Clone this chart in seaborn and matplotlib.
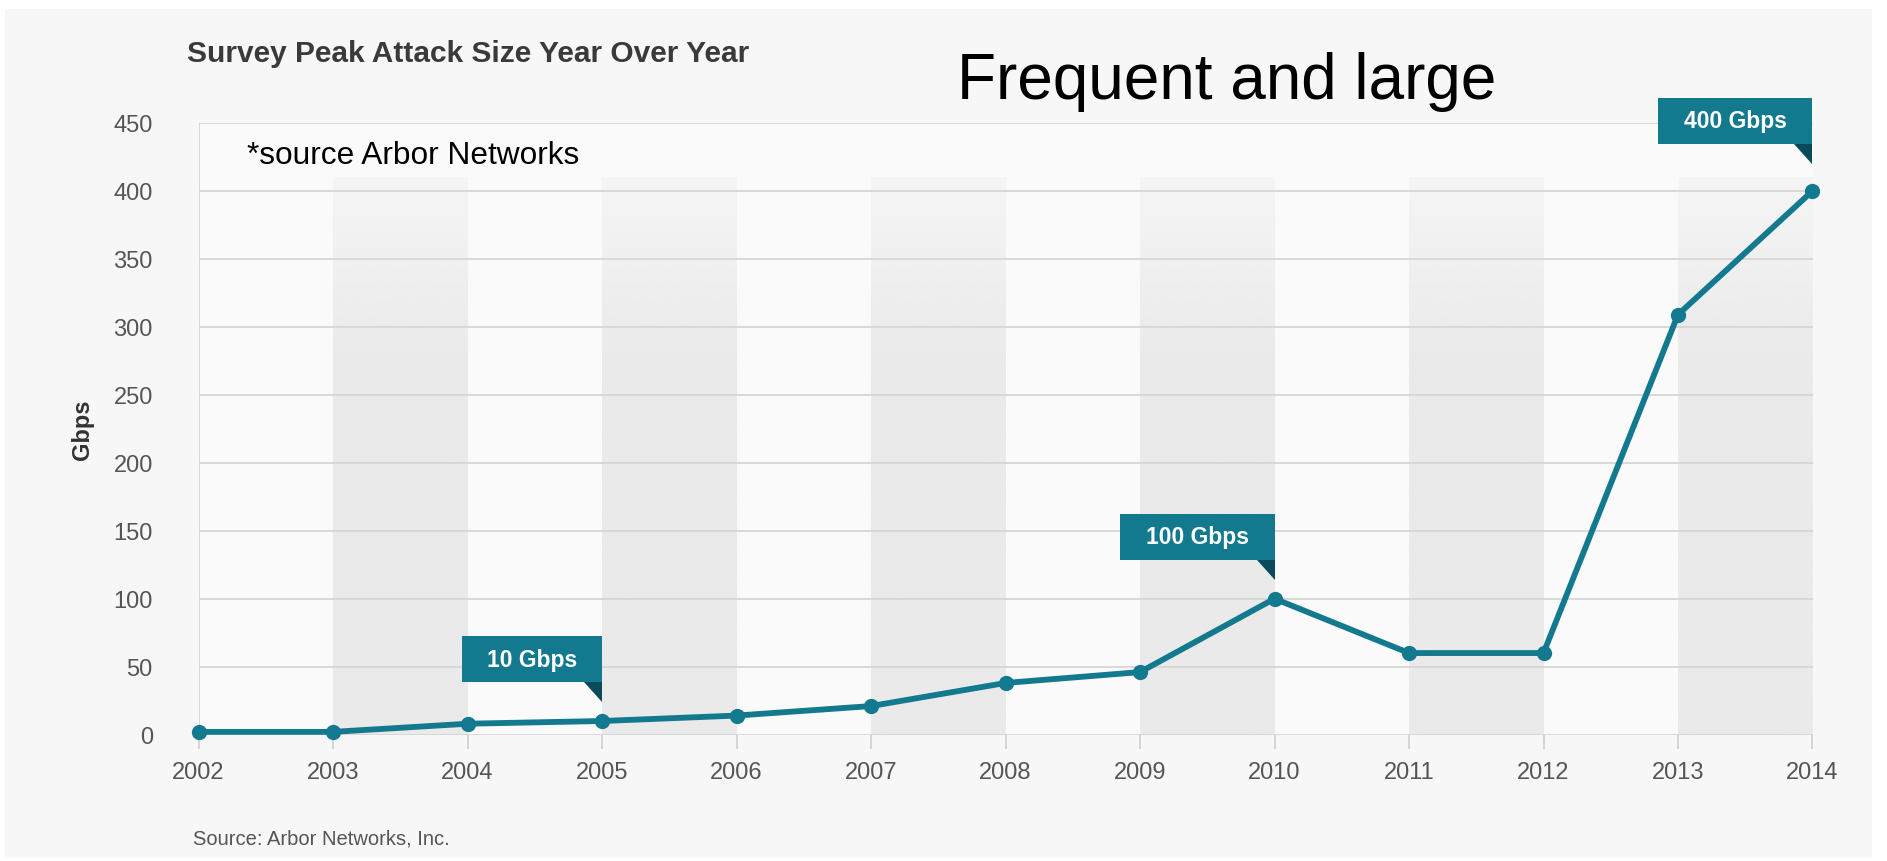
import matplotlib
matplotlib.use("Agg")
import matplotlib.pyplot as plt
from matplotlib.patches import Rectangle, Polygon
from matplotlib.transforms import IdentityTransform
import numpy as np
import pandas as pd
import seaborn as sns

# Peak attack size reported each year (Gbps)
years = [2002, 2003, 2004, 2005, 2006, 2007, 2008, 2009, 2010, 2011, 2012, 2013, 2014]
peak_gbps = [2, 2, 8, 10, 14, 21, 38, 46, 100, 60, 60, 309, 400]
callout_years = [2005, 2010, 2014]
y_ticks = [0, 50, 100, 150, 200, 250, 300, 350, 400, 450]

TEAL = "#13798f"
TEAL_DARK = "#0a4a59"
BAND = "#eaeaea"
PANEL = "#f7f7f7"
PLOT_BG = "#fafafa"
GRID = "#d6d6d6"

sns.set_theme(style="white")
plt.rcParams["font.family"] = ["Liberation Sans", "DejaVu Sans"]

W, H, DPI = 1887, 862, 100
fig = plt.figure(figsize=(W / DPI, H / DPI), dpi=DPI, facecolor="white")

# light grey card behind everything
fig.add_artist(Rectangle((5, 3), 1867, 849, transform=IdentityTransform(),
                         facecolor=PANEL, edgecolor="none", zorder=-10))

ax = fig.add_axes([198.6 / W, 1 - 735.6 / H, (1812.5 - 198.6) / W, (735.6 - 124.0) / H])
ax.set_facecolor(PLOT_BG)

ax.set_xlim(years[0], years[-1])
ax.set_ylim(0, 450)

# alternating year bands, fading out towards the top
band_top = 410
grad = np.linspace(0, 1, 256)
alpha = np.clip(1 - (grad * band_top - 270) / (band_top - 270) * 0.7, 0.3, 1.0)
alpha = np.where(grad * band_top > 270, alpha, 1.0)
rgba = np.zeros((256, 1, 4))
band_rgb = matplotlib.colors.to_rgb(BAND)
rgba[..., 0] = band_rgb[0]
rgba[..., 1] = band_rgb[1]
rgba[..., 2] = band_rgb[2]
rgba[..., 3] = alpha[:, None]
for start in years[1::2]:
    ax.imshow(rgba, extent=(start, start + 1, 0, band_top), origin="lower",
              aspect="auto", zorder=0, interpolation="bilinear")
ax.set_xlim(years[0], years[-1])
ax.set_ylim(0, 450)

# horizontal gridlines
for v in y_ticks:
    ax.axhline(v, color=GRID, lw=1.3, zorder=1)
ax.axvline(years[0], color=GRID, lw=1.3, zorder=1)

df = pd.DataFrame({"year": years, "gbps": peak_gbps})
sns.lineplot(data=df, x="year", y="gbps", ax=ax, color=TEAL, lw=4.2,
             marker="o", markersize=11, markeredgewidth=0, zorder=5,
             clip_on=False)

for s in ax.spines.values():
    s.set_visible(False)

ax.set_xticks(years)
ax.set_xticklabels([str(y) for y in years])
ax.set_yticks(y_ticks)
ax.set_yticklabels([str(v) for v in y_ticks])
ax.tick_params(axis="x", length=10, width=1.2, color="#cfcfcf", pad=9,
               labelsize=17, labelcolor="#555555", bottom=True)
ax.tick_params(axis="y", length=0, pad=33, labelsize=17, labelcolor="#555555")
ax.set_xlabel("")
ax.set_ylabel("Gbps", fontsize=17, fontweight="bold", color="#333333", labelpad=14)

# callout boxes pinned to selected points
box_w = {2005: 140, 2010: 155, 2014: 154}
box_gap = {2005: 39, 2010: 39, 2014: 47}
box_h = 46
for yr in callout_years:
    val = peak_gbps[years.index(yr)]
    px, py = ax.transData.transform((yr, val))
    right = px
    bottom = py + box_gap[yr]
    left = right - box_w[yr]
    fig.add_artist(Rectangle((left, bottom), box_w[yr], box_h,
                             transform=IdentityTransform(), facecolor=TEAL,
                             edgecolor="none", zorder=20))
    fig.add_artist(Polygon([(right - 18, bottom), (right, bottom), (right, bottom - 20)],
                           closed=True, transform=IdentityTransform(),
                           facecolor=TEAL_DARK, edgecolor="none", zorder=20))
    fig.text(left + box_w[yr] / 2, bottom + box_h / 2, f"{val} Gbps",
             transform=IdentityTransform(), ha="center", va="center",
             color="white", fontsize=16.5, fontweight="bold", zorder=21)

# headings and notes
fig.text(187 / W, 1 - 54 / H, "Survey Peak Attack Size Year Over Year",
         ha="left", va="center", fontsize=21.5, fontweight="bold", color="#3a3a3a")
fig.text(957 / W, 1 - 82 / H, "Frequent and large",
         ha="left", va="center", fontsize=46, color="black")
fig.text(247 / W, 1 - 156 / H, "*source Arbor Networks",
         ha="left", va="center", fontsize=22.8, color="black")
fig.text(193 / W, 1 - 839 / H, "Source: Arbor Networks, Inc.",
         ha="left", va="center", fontsize=14.5, color="#555555")

fig.savefig("out.png", dpi=DPI, facecolor=fig.get_facecolor())
